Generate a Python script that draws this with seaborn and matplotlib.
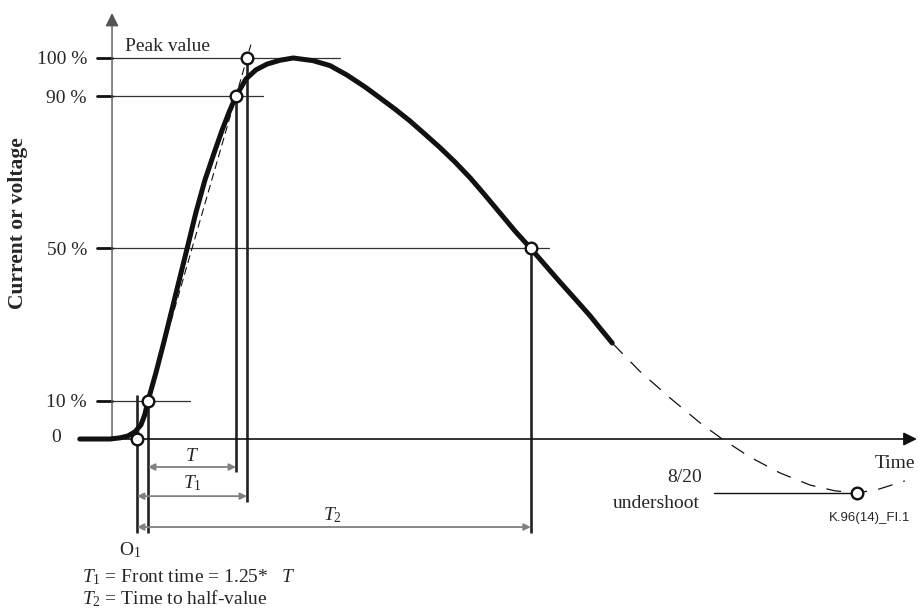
import matplotlib
matplotlib.use("Agg")
import matplotlib.pyplot as plt
import seaborn as sns

sns.set_style("white")
plt.rcParams["font.family"] = ["Liberation Serif", "DejaVu Serif"]
plt.rcParams["mathtext.fontset"] = "custom"
plt.rcParams["mathtext.rm"] = "Liberation Serif"
plt.rcParams["mathtext.it"] = "Liberation Serif:italic"

# waveform: time in arbitrary units, value in % of peak
front_t = [-5.2, -2.45, -1.55, -0.82, -0.18, 0.36, 0.7, 1.0, 1.73, 2.45, 3.18,
           3.91, 4.64, 5.36, 6.18, 7.0, 7.73, 8.4, 9.0, 9.91, 10.82, 11.82,
           13.0, 14.2, 16.0, 17.55, 19.1, 20.73, 22.1, 23.45, 24.8, 26.18,
           27.5, 28.91, 30.3, 31.64, 33.0, 34.36, 35.8, 37.18, 38.45, 39.91,
           41.2, 42.09, 43.2]
front_v = [0, 0, 0.3, 0.8, 1.9, 3.7, 6.3, 10, 17.5, 25.5, 34,
           42.5, 51, 59.5, 68, 75, 81, 86, 90, 94.5, 96.9, 98.4,
           99.4, 100, 99.3, 98.0, 95.5, 92.4, 89.5, 86.6, 83.5, 80.0,
           76.6, 72.7, 68.5, 64.0, 59.3, 54.6, 50, 45.4, 41.2, 36.5,
           32.3, 29.1, 25.2]

# dashed continuation with the undershoot
tail_t = [43.2, 45.7, 48.45, 51.2, 53.2, 55.7, 58.45, 61.2, 63.45, 65.45, 67.5, 69.8]
tail_v = [25.2, 17.8, 10.8, 4.2, 0, -4.7, -8.9, -12.1, -13.6, -14.2, -13.1, -11.0]

# virtual front line through the 10 % and 90 % points
chord_t = [0, 10.35]
chord_v = [0, 103.5]

# marked points
t_o1, t_10, t_90, t_100, t_50 = 0.0, 1.0, 9.0, 10.0, 35.8
t_under, v_under = 65.45, -14.2
mark_t = [t_o1, t_10, t_90, t_100, t_50, t_under]
mark_v = [0, 10, 90, 100, 50, v_under]

# y levels
level_values = [100, 90, 50, 10]
level_labels = ["100 %", "90 %", "50 %", "10 %"]
level_ends = [18.45, 11.45, 37.5, 4.8]

t_axis = -2.27

fig = plt.figure(figsize=(9.19, 6.10), dpi=100)
ax = fig.add_axes([0, 0, 1, 1])
ax.set_xlim(-12.4545, 71.0909)
ax.set_ylim(-44.88, 115.22)
ax.axis("off")

# axes with arrows
ax.annotate("", xy=(t_axis, 111.8), xytext=(t_axis, 0),
            arrowprops=dict(arrowstyle="-|>", color="#555", lw=1.0,
                            mutation_scale=20, shrinkA=0, shrinkB=0))
ax.annotate("", xy=(70.9, 0), xytext=(t_axis, 0),
            arrowprops=dict(arrowstyle="-|>", color="#111", lw=1.2,
                            mutation_scale=20, shrinkA=0, shrinkB=0))

# level lines, ticks and labels
for val, lab, end in zip(level_values, level_labels, level_ends):
    ax.plot([t_axis, end], [val, val], color="#333", lw=0.9, zorder=2)
    ax.plot([-3.64, t_axis], [val, val], color="#111", lw=2.0, zorder=2)
    ax.text(-4.55, val, lab, ha="right", va="center_baseline", fontsize=14)
ax.text(-6.9, 1.0, "0", ha="right", va="center_baseline", fontsize=14)
ax.text(-1.09, 102.9, "Peak value", ha="left", va="center", fontsize=14)

# vertical markers
vert_t = [t_o1, t_10, t_90, t_100, t_50]
vert_top = [11.5, 10, 90, 100, 50]
vert_bot = [-24.7, -24.7, -8.7, -16.5, -24.7]
ax.vlines(vert_t, vert_bot, vert_top, color="#222", lw=1.9, zorder=2)

# time intervals
for (a, b, y) in [(t_10, t_90, -7.35), (t_o1, t_100, -15.0), (t_o1, t_50, -23.1)]:
    ax.annotate("", xy=(b, y), xytext=(a, y),
                arrowprops=dict(arrowstyle="<|-|>", color="#808080", lw=1.3,
                                mutation_scale=10, shrinkA=0, shrinkB=0))
ax.text(5.0, -4.5, "$T$", ha="center", va="center", fontsize=14)
ax.text(5.0, -11.5, "$T_1$", ha="center", va="center", fontsize=14)
ax.text(17.8, -20.0, "$T_2$", ha="center", va="center", fontsize=14)
ax.text(-0.6, -29.1, r"$\mathrm{O}_1$", ha="center", va="center", fontsize=14)

# waveform
sns.lineplot(x=front_t, y=front_v, ax=ax, color="#111", lw=3.6, sort=False,
             solid_joinstyle="round", zorder=3)
sns.lineplot(x=tail_t, y=tail_v, ax=ax, color="#111", lw=0.9, sort=False,
             linestyle=(0, (12, 9)), zorder=3)
sns.lineplot(x=chord_t, y=chord_v, ax=ax, color="#111", lw=0.8, sort=False,
             linestyle=(0, (7, 4)), zorder=3)

# undershoot marker line
ax.plot([52.5, t_under], [v_under, v_under], color="#111", lw=1.0, zorder=2)

sns.scatterplot(x=mark_t, y=mark_v, ax=ax, s=70, color="white",
                edgecolor="#111", linewidth=1.7, zorder=5)

# labels
ax.text(70.7, -6.3, "Time", ha="right", va="center", fontsize=14)
ax.text(51.4, -10.2, "8/20", ha="right", va="center", fontsize=14)
ax.text(51.2, -16.8, "undershoot", ha="right", va="center", fontsize=14)
ax.text(70.3, -20.7, "K.96(14)_FI.1", ha="right", va="center", fontsize=9.5,
        family=["Liberation Sans", "DejaVu Sans"])
ax.text(-10.8, 56.7, "Current or voltage", rotation=90, ha="center",
        va="center", fontsize=15.5, fontweight="bold")
ax.text(-4.99, -36.2, "$T_1$ = Front time = 1.25*   $T$", ha="left",
        va="center", fontsize=14)
ax.text(-4.99, -42.0, "$T_2$ = Time to half-value", ha="left",
        va="center", fontsize=14)

fig.savefig("out.png", dpi=100)
